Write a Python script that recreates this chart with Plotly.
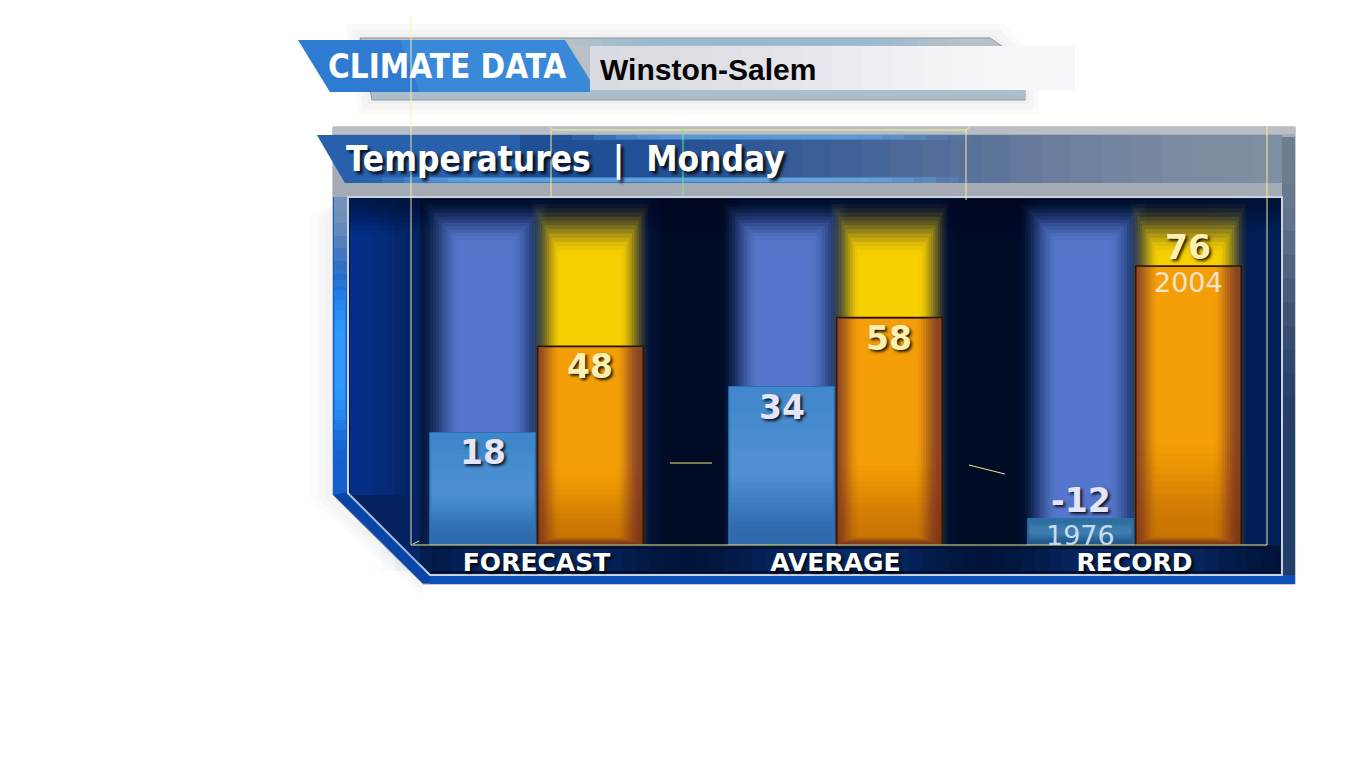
import plotly.graph_objects as go

# ---------------- data ----------------
categories = ["FORECAST", "AVERAGE", "RECORD"]
low_values = [18, 34, -12]
high_values = [48, 58, 76]
low_years = ["", "", "1976"]
high_years = ["", "", "2004"]

title_left = "CLIMATE DATA"
city = "Winston-Salem"
subtitle = "Temperatures  |  Monday"

# ---------------- geometry ----------------
W, H = 1368, 770
L, R, T, B = 387, 84, 197, 225
PW, PH = W - L - R, H - T - B
Y_MIN, Y_MAX = -21.2, 100.0
BAR_W = 0.353
LOW_OFF = -0.357
HIGH_OFF = 0.004


def px(x):
    return (round(x) - L) / PW


def py(y):
    return (H - B - round(y)) / PH


def path(points):
    return "M " + " L ".join(f"{px(x):.5f},{py(y):.5f}" for x, y in points) + " Z"


def ramp_alphas(n, amax, a0=0.0):
    """per-layer alphas so that nested layers build a smooth cumulative ramp a0 -> amax"""
    out, prev = [], a0
    for k in range(n):
        t = (k + 1) / n
        s = t * t * (3 - 2 * t)
        A = a0 + (amax - a0) * s
        out.append(1 - (1 - A) / (1 - prev) if prev < 1 else 0)
        prev = A
    return out


shapes = []


def poly(points, fill, line=None, lw=0, layer="below"):
    shapes.append(dict(type="path", xref="paper", yref="paper", path=path(points),
                       fillcolor=fill, line=dict(color=line or "rgba(0,0,0,0)", width=lw),
                       layer=layer))


def rect(x0, y0, x1, y1, fill, layer="below"):
    shapes.append(dict(type="rect", xref="paper", yref="paper", x0=px(x0), x1=px(x1),
                       y0=py(y0), y1=py(y1), fillcolor=fill, line=dict(width=0), layer=layer))


def seg(x0, y0, x1, y1, color, w=1, layer="above"):
    shapes.append(dict(type="line", xref="paper", yref="paper", x0=px(x0), x1=px(x1),
                       y0=py(y0), y1=py(y1), line=dict(color=color, width=w), layer=layer))


def hramp(x0, y0, x1, y1, rgb, amax, n=14):
    for k, a in enumerate(ramp_alphas(n, amax)):
        xa = x0 + (x1 - x0) * k / n
        rect(xa, y0, x1, y1, f"rgba({rgb},{a:.4f})")


def vramp(x0, y0, x1, y1, rgb, amax, n=10):
    for k, a in enumerate(ramp_alphas(n, amax)):
        ya = y0 + (y1 - y0) * k / n
        rect(x0, ya, x1, y1, f"rgba({rgb},{a:.4f})")


def glow(cx, cy, wo, ho, wi, hi, rgb, amax, n=12):
    for k, a in enumerate(ramp_alphas(n, amax)):
        t = k / (n - 1)
        w = wo + (wi - wo) * t
        h = ho + (hi - ho) * t
        rect(cx - w / 2, cy - h / 2, cx + w / 2, cy + h / 2, f"rgba({rgb},{a:.4f})")


# soft shadow left of panel
for d in [22, 14, 7]:
    poly([(333 - d, 215), (333, 205), (333, 495), (423, 584), (423, 584 + d * 0.6), (333 - d, 500)],
         "rgba(120,130,140,0.03)")

# header soft shadow
for d in [14, 9, 4]:
    poly([(360 - d, 38 - d), (990 + d, 38 - d), (1025 + d, 62), (1025 + d, 100 + d), (372 - d, 100 + d)],
         "rgba(100,105,110,0.03)")
# header frame
poly([(360, 38), (990, 38), (1025, 62), (1025, 100), (372, 100)], "#b9c0c7", "#8c949a", 1)
rect(372, 89, 1025, 99, "#a9c0cc")
glow(760, 42, 400, 8, 200, 6, "140,185,215", 0.7, n=8)
rect(590, 46, 1075, 90, "#dadae2")
hramp(590, 46, 1075, 90, "250,250,253", 0.95, n=16)
poly([(298, 40), (565, 40), (590, 80), (590, 92), (330, 92)], "#3a88d8")
poly([(298, 40), (400, 40), (420, 92), (330, 92)], "rgba(30,100,200,0.35)")

# main panel
poly([(333, 127), (1295, 127), (1295, 584), (423, 584), (333, 495)], "#0a46a8", "#8e9aa6", 1)
rect(333, 127, 1295, 197, "#a4abb4")
rect(333, 127, 1295, 134, "rgba(200,204,210,0.6)")
poly([(317, 135), (1282, 135), (1282, 183), (345, 183)], "#1f4f96")
hramp(560, 135, 1282, 183, "128,142,162", 1.0, n=24)
poly([(317, 135), (520, 135), (520, 183), (345, 183)], "rgba(60,130,215,0.35)")
glow(670, 180, 620, 6, 400, 4, "110,180,240", 0.8, n=6)
glow(760, 137, 420, 6, 200, 4, "110,180,240", 0.7, n=6)
rect(1282, 137, 1295, 584, "#243f66")
vramp(1282, 420, 1295, 137, "110,125,145", 1.0, n=12)
poly([(333, 197), (348, 197), (348, 492), (333, 495)], "#145fcc")
vramp(334, 300, 347, 197, "140,160,180", 0.8, n=8)
glow(340, 360, 12, 200, 10, 60, "50,160,255", 0.9, n=8)
rect(430, 575, 1295, 584, "#0c50b8")

# inner dark area
poly([(348, 197), (1282, 197), (1282, 575), (430, 575), (348, 493)], "#051840", "#c9d4e0", 2)
poly([(350, 199), (420, 199), (420, 565), (350, 495)], "rgba(12,55,160,0.35)")
hramp(425, 199, 350, 495, "15,65,180", 0.5, n=12)
glow(695, 372, 110, 346, 60, 346, "0,6,24", 0.6, n=8)
glow(990, 372, 110, 346, 60, 346, "0,6,24", 0.6, n=8)
hramp(1200, 199, 1280, 545, "10,50,130", 0.45, n=10)
vramp(350, 235, 1280, 199, "0,8,30", 0.5, n=8)
rect(432, 547, 1280, 573, "rgba(0,8,35,0.45)")
for cx in [537, 837, 1134]:
    hramp(cx - 170, 549, cx, 571, "40,100,210", 0.35, n=12)
    hramp(cx + 170, 549, cx, 571, "40,100,210", 0.35, n=12)

# guide lines (thin yellow artifacts)
ylw = "rgba(250,245,140,0.95)"
seg(411, 15, 411, 545, "rgba(250,245,170,0.9)")
seg(411, 545, 1267, 545, ylw)
seg(1267, 127, 1267, 545, ylw)
seg(553, 130, 966, 130, ylw)
seg(550, 127, 553, 130, ylw)
seg(966, 130, 970, 127, ylw)
seg(551, 130, 551, 197, ylw)
seg(683, 127, 683, 197, "rgba(120,240,120,0.9)")
seg(966, 130, 966, 200, ylw)
seg(670, 463, 712, 463, ylw)
seg(969, 465, 1005, 474, ylw)
seg(413, 544, 419, 541, ylw)

# ---------------- traces ----------------
fig = go.Figure()
nobar = dict(width=0)


def glow_bars(center_off, tops_fn, w_out, w_in, rgb, amax, n):
    for k, a in enumerate(ramp_alphas(n, amax)):
        t = k / (n - 1)
        w = w_out + (w_in - w_out) * t
        fig.add_trace(go.Bar(x=categories, y=[tp - Y_MIN for tp in tops_fn(t)], base=Y_MIN,
                             width=w, offset=center_off - w / 2,
                             marker=dict(color=f"rgba({rgb},{a:.4f})", line=nobar),
                             hoverinfo="skip", showlegend=False))


low_center = LOW_OFF + BAR_W / 2 + 0.01
high_center = HIGH_OFF + BAR_W / 2
glow_bars(low_center, lambda t: [Y_MAX - 1 - 15 * t] * 3, 0.43, 0.17, "98,134,225", 0.88, 14)
glow_bars(high_center, lambda t: [max(Y_MAX - 1 - 19 * t, v + 4) for v in high_values],
          0.40, 0.20, "255,214,0", 0.97, 14)

low_colors = ["#3f87cc", "#4388cc", "#2e6e9e"]
fig.add_trace(go.Bar(x=categories, y=[v - Y_MIN for v in low_values], base=Y_MIN,
                     width=BAR_W, offset=LOW_OFF,
                     marker=dict(color=low_colors, line=dict(color="#2a70b0", width=1)),
                     showlegend=False, hoverinfo="skip"))
for k in range(6):
    fig.add_trace(go.Bar(x=categories, y=[(v - Y_MIN) * (0.7 - k * 0.1) for v in low_values],
                         base=[Y_MIN + (v - Y_MIN) * (0.15 + k * 0.05) for v in low_values],
                         width=BAR_W - 0.012, offset=LOW_OFF + 0.006,
                         marker=dict(color="rgba(120,180,240,0.05)", line=nobar),
                         showlegend=False, hoverinfo="skip"))
for k, a in enumerate(ramp_alphas(14, 0.3)):
    fig.add_trace(go.Bar(x=categories, y=[(v - Y_MIN) * (0.45 - k * 0.03) for v in low_values], base=Y_MIN,
                         width=BAR_W - 0.006, offset=LOW_OFF + 0.003,
                         marker=dict(color=f"rgba(20,60,120,{a:.4f})", line=nobar),
                         showlegend=False, hoverinfo="skip"))

fig.add_trace(go.Bar(x=categories, y=[v - Y_MIN for v in high_values], base=Y_MIN,
                     width=BAR_W, offset=HIGH_OFF,
                     marker=dict(color="#8a4424", line=dict(color="#2a1608", width=1.5)),
                     showlegend=False, hoverinfo="skip"))
for k, a in enumerate(ramp_alphas(10, 0.97)):
    w = 0.345 - k * 0.017
    fig.add_trace(go.Bar(x=categories, y=[v - Y_MIN - 1.0 - k * 0.3 for v in high_values],
                         base=Y_MIN + 0.5 + k * 0.3,
                         width=w, offset=HIGH_OFF + BAR_W / 2 - w / 2 - 0.008,
                         marker=dict(color=f"rgba(248,162,8,{a:.4f})", line=nobar),
                         showlegend=False, hoverinfo="skip"))
for k, a in enumerate(ramp_alphas(16, 0.35)):
    fig.add_trace(go.Bar(x=categories, y=[(v - Y_MIN) * (0.4 - k * 0.024) for v in high_values], base=Y_MIN,
                         width=BAR_W - 0.004, offset=HIGH_OFF + 0.002,
                         marker=dict(color=f"rgba(130,55,20,{a:.4f})", line=nobar),
                         showlegend=False, hoverinfo="skip"))

# ---------------- labels ----------------
annotations = []
num_font = "DejaVu Sans, Verdana, sans-serif"
shadow = "2px 2px 3px rgba(0,0,0,0.85)"
for i, cat in enumerate(categories):
    for vals, years, off, col, ycol in [(low_values, low_years, LOW_OFF, "#e4e4fb", "#c6dcec"),
                                        (high_values, high_years, HIGH_OFF, "#fbf0b0", "#f2e4c8")]:
        v = vals[i]
        xc = i + off + BAR_W / 2
        if years[i]:
            annotations.append(dict(x=xc, y=v, xref="x", yref="y", text=f"<b>{v}</b>",
                                    showarrow=False, yanchor="bottom", yshift=-3,
                                    font=dict(family=num_font, size=33, color=col, shadow=shadow)))
            annotations.append(dict(x=xc, y=v, xref="x", yref="y", text=years[i],
                                    showarrow=False, yanchor="top", yshift=1,
                                    font=dict(family=num_font, size=27, color=ycol)))
        else:
            annotations.append(dict(x=xc, y=v, xref="x", yref="y", text=f"<b>{v}</b>",
                                    showarrow=False, yanchor="top", yshift=1,
                                    font=dict(family=num_font, size=33, color=col, shadow=shadow)))

cond = "DejaVu Sans Condensed, Liberation Sans Narrow, sans-serif"
annotations.append(dict(x=px(326), y=py(66), xref="paper", yref="paper", text=f"<b>{title_left}</b>",
                        xanchor="left", yanchor="middle", showarrow=False,
                        font=dict(family=cond, size=33, color="white")))
annotations.append(dict(x=px(598), y=py(69), xref="paper", yref="paper", text=f"<b>{city}</b>",
                        xanchor="left", yanchor="middle", showarrow=False,
                        font=dict(family="Liberation Sans, Arial, sans-serif", size=30, color="#050505")))
annotations.append(dict(x=px(344), y=py(159), xref="paper", yref="paper", text=f"<b>{subtitle}</b>",
                        xanchor="left", yanchor="middle", showarrow=False,
                        font=dict(family=cond, size=35, color="white",
                                  shadow="3px 3px 3px rgba(0,0,0,0.8)")))

fig.update_layout(
    width=W, height=H,
    margin=dict(l=L, r=R, t=T, b=B, pad=0),
    paper_bgcolor="white", plot_bgcolor="rgba(0,0,0,0)",
    barmode="overlay",
    shapes=shapes, annotations=annotations,
    showlegend=False,
    xaxis=dict(type="category", range=[-0.5, 2.5], showgrid=False, zeroline=False, showline=False,
               ticks="", ticklabelstandoff=0,
               tickfont=dict(family="DejaVu Sans, Verdana, sans-serif", size=25, color="white",
                             weight="bold", shadow="2px 2px 3px rgba(0,0,0,0.9)")),
    yaxis=dict(range=[Y_MIN, Y_MAX], visible=False, showgrid=False, zeroline=False),
)

fig.write_html("out.html")
